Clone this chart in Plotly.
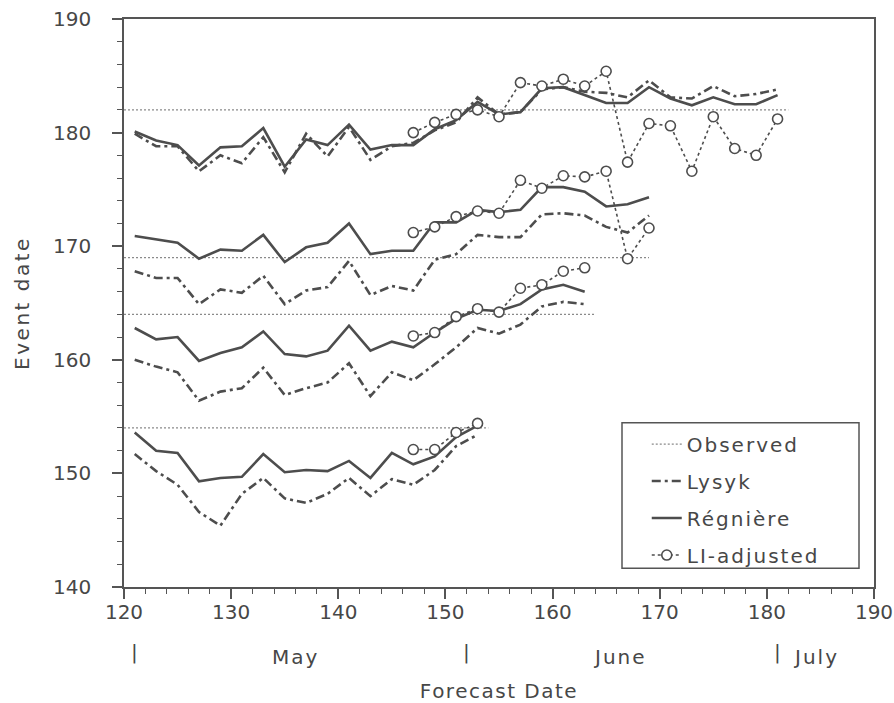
import plotly.graph_objects as go

# ---------------- data ----------------
forecast_days = [121, 123, 125, 127, 129, 131, 133, 135, 137, 139, 141, 143, 145, 147, 149, 151,
                 153, 155, 157, 159, 161, 163, 165, 167, 169, 171, 173, 175, 177, 179, 181]
li_days = [147, 149, 151, 153, 155, 157, 159, 161, 163, 165, 167, 169, 171, 173, 175, 177, 179, 181]

observed_start = 120
observed_dates = [182, 169, 164, 154]

regniere_1 = [180.1, 179.3, 178.9, 177.1, 178.7, 178.8, 180.4, 177.0, 179.4, 178.9, 180.7, 178.5,
              178.9, 178.9, 180.3, 181.1, 182.7, 181.6, 181.8, 183.9, 184.0, 183.3, 182.6, 182.6,
              184.0, 183.0, 182.4, 183.1, 182.5, 182.5, 183.3]
lysyk_1 = [179.9, 178.8, 178.8, 176.6, 178.0, 177.3, 179.6, 176.5, 179.9, 177.9, 180.5, 177.6,
           178.8, 179.1, 180.2, 180.9, 183.1, 181.6, 181.8, 183.8, 184.0, 183.6, 183.5, 183.1,
           184.6, 183.1, 183.0, 184.1, 183.2, 183.4, 183.8]
li_1 = [180.0, 180.9, 181.6, 182.0, 181.4, 184.4, 184.1, 184.7, 184.1, 185.4, 177.4, 180.8,
        180.6, 176.6, 181.4, 178.6, 178.0, 181.2]

regniere_2 = [170.9, 170.6, 170.3, 168.9, 169.7, 169.6, 171.0, 168.6, 169.9, 170.3, 172.0, 169.3,
              169.6, 169.6, 172.1, 172.1, 173.2, 173.0, 173.2, 175.2, 175.2, 174.8, 173.5, 173.7, 174.3]
lysyk_2 = [167.8, 167.2, 167.2, 164.9, 166.2, 165.9, 167.4, 164.9, 166.1, 166.4, 168.7, 165.7,
           166.5, 166.1, 168.8, 169.3, 171.0, 170.8, 170.8, 172.8, 172.9, 172.7, 171.7, 171.2, 172.7]
li_2 = [171.2, 171.7, 172.6, 173.1, 172.9, 175.8, 175.1, 176.2, 176.1, 176.6, 168.9, 171.6]

regniere_3 = [162.8, 161.8, 162.0, 159.9, 160.6, 161.1, 162.5, 160.5, 160.3, 160.8, 163.0, 160.8,
              161.6, 161.1, 162.4, 163.6, 164.4, 164.3, 164.9, 166.2, 166.6, 166.0]
lysyk_3 = [160.0, 159.4, 158.9, 156.4, 157.2, 157.5, 159.3, 156.9, 157.5, 158.0, 159.7, 156.8,
           158.9, 158.2, 159.6, 161.1, 162.8, 162.3, 163.1, 164.7, 165.1, 164.9]
li_3 = [162.1, 162.4, 163.8, 164.5, 164.2, 166.3, 166.6, 167.8, 168.1]

regniere_4 = [153.6, 152.0, 151.8, 149.3, 149.6, 149.7, 151.7, 150.1, 150.3, 150.2, 151.1, 149.6,
              151.8, 150.8, 151.5, 153.2, 154.2]
lysyk_4 = [151.7, 150.2, 149.0, 146.6, 145.4, 148.2, 149.6, 147.8, 147.4, 148.2, 149.6, 148.0,
           149.5, 149.0, 150.3, 152.4, 153.4]
li_4 = [152.1, 152.1, 153.6, 154.4]

regniere_series = [regniere_1, regniere_2, regniere_3, regniere_4]
lysyk_series = [lysyk_1, lysyk_2, lysyk_3, lysyk_4]
li_series = [li_1, li_2, li_3, li_4]

x_ticks = [120, 130, 140, 150, 160, 170, 180, 190]
y_ticks = [140, 150, 160, 170, 180, 190]
month_marks = [121, 152, 181]
month_names = ["May", "June", "July"]
month_name_pos = [136, 166.3, 184.6]

# ---------------- helpers ----------------
def sp(text, px=2):
    return f'<span style="letter-spacing:{px}px">{text}</span>'

def join(xs_list, ys_list):
    X, Y = [], []
    for xs, ys in zip(xs_list, ys_list):
        X += list(xs[:len(ys)]) + [None]
        Y += list(ys) + [None]
    return X, Y

ink = "#4d4d4d"
txt = "#474747"

obs_x, obs_y = [], []
for d in observed_dates:
    obs_x += [observed_start, d, None]
    obs_y += [d, d, None]

lys_x, lys_y = join([forecast_days] * 4, lysyk_series)
reg_x, reg_y = join([forecast_days] * 4, regniere_series)
li_x, li_y = join([li_days] * 4, li_series)

fig = go.Figure()
fig.add_trace(go.Scatter(x=obs_x, y=obs_y, mode="lines", name=sp("Observed"), legendgroup="a",
                         line=dict(color="#8a8a8a", width=1.2, dash="2px,2px")))
fig.add_trace(go.Scatter(x=lys_x, y=lys_y, mode="lines", name=sp("Lysyk"), legendgroup="b",
                         line=dict(color=ink, width=2.6, dash="9px,4px,3px,4px")))
fig.add_trace(go.Scatter(x=reg_x, y=reg_y, mode="lines", name=sp("Régnière"), legendgroup="c",
                         line=dict(color=ink, width=2.6)))
fig.add_trace(go.Scatter(x=li_x, y=li_y, mode="lines+markers", name=sp("LI-adjusted"), legendgroup="d",
                         line=dict(color=ink, width=1.6, dash="3px,3px"),
                         marker=dict(symbol="circle", size=10, color="white",
                                     line=dict(color=ink, width=1.6))))

annotations = []
for m in month_marks:
    annotations.append(dict(x=m, y=-0.114, xref="x", yref="paper", text="|", showarrow=False,
                            xanchor="center", yanchor="middle", font=dict(size=20, color=txt)))
for name, pos in zip(month_names, month_name_pos):
    annotations.append(dict(x=pos, y=-0.123, xref="x", yref="paper", text=sp(name), showarrow=False,
                            xanchor="center", yanchor="middle", font=dict(size=20, color=txt)))

# legend frame (paper coordinates)
legend_frame = dict(type="rect", xref="paper", yref="paper", x0=0.664, x1=0.980, y0=0.033, y1=0.289,
                    line=dict(color="#555555", width=1.5), fillcolor="rgba(0,0,0,0)", layer="above")

fig.update_layout(
    width=894, height=703,
    margin=dict(l=124, r=20, t=19, b=116, autoexpand=False),
    plot_bgcolor="white", paper_bgcolor="white",
    font=dict(family="DejaVu Sans", size=20, color=txt),
    legend=dict(x=0.697, y=0.286, xanchor="left", yanchor="top",
                borderwidth=0, bgcolor="rgba(0,0,0,0)",
                font=dict(size=20, color=txt), traceorder="grouped", tracegroupgap=8),
    shapes=[legend_frame],
    annotations=annotations,
    xaxis=dict(range=[120, 190], tickvals=x_ticks, ticks="outside", ticklen=10, tickwidth=1.5,
               tickcolor="#555555", showline=True, linecolor="#555555", linewidth=1.5, mirror=True,
               showgrid=False, zeroline=False, ticklabelstandoff=-4, tickfont=dict(size=20),
               automargin=False,
               minor=dict(dtick=2, tick0=120, ticks="outside", ticklen=5, tickwidth=1.2,
                          tickcolor="#555555", showgrid=False),
               title=dict(text=sp("Forecast Date", 1.5), standoff=62, font=dict(size=20, color=txt))),
    yaxis=dict(range=[140, 190], tickvals=y_ticks, ticks="outside", ticklen=10, tickwidth=1.5,
               tickcolor="#555555", showline=True, linecolor="#555555", linewidth=1.5, mirror=True,
               showgrid=False, zeroline=False, ticklabelstandoff=17, tickfont=dict(size=20),
               automargin=False,
               minor=dict(dtick=2, tick0=140, ticks="outside", ticklen=5, tickwidth=1.2,
                          tickcolor="#555555", showgrid=False),
               title=dict(text=sp("Event date", 2.5), standoff=18, font=dict(size=20, color=txt))),
)

fig.write_html("out.html")
